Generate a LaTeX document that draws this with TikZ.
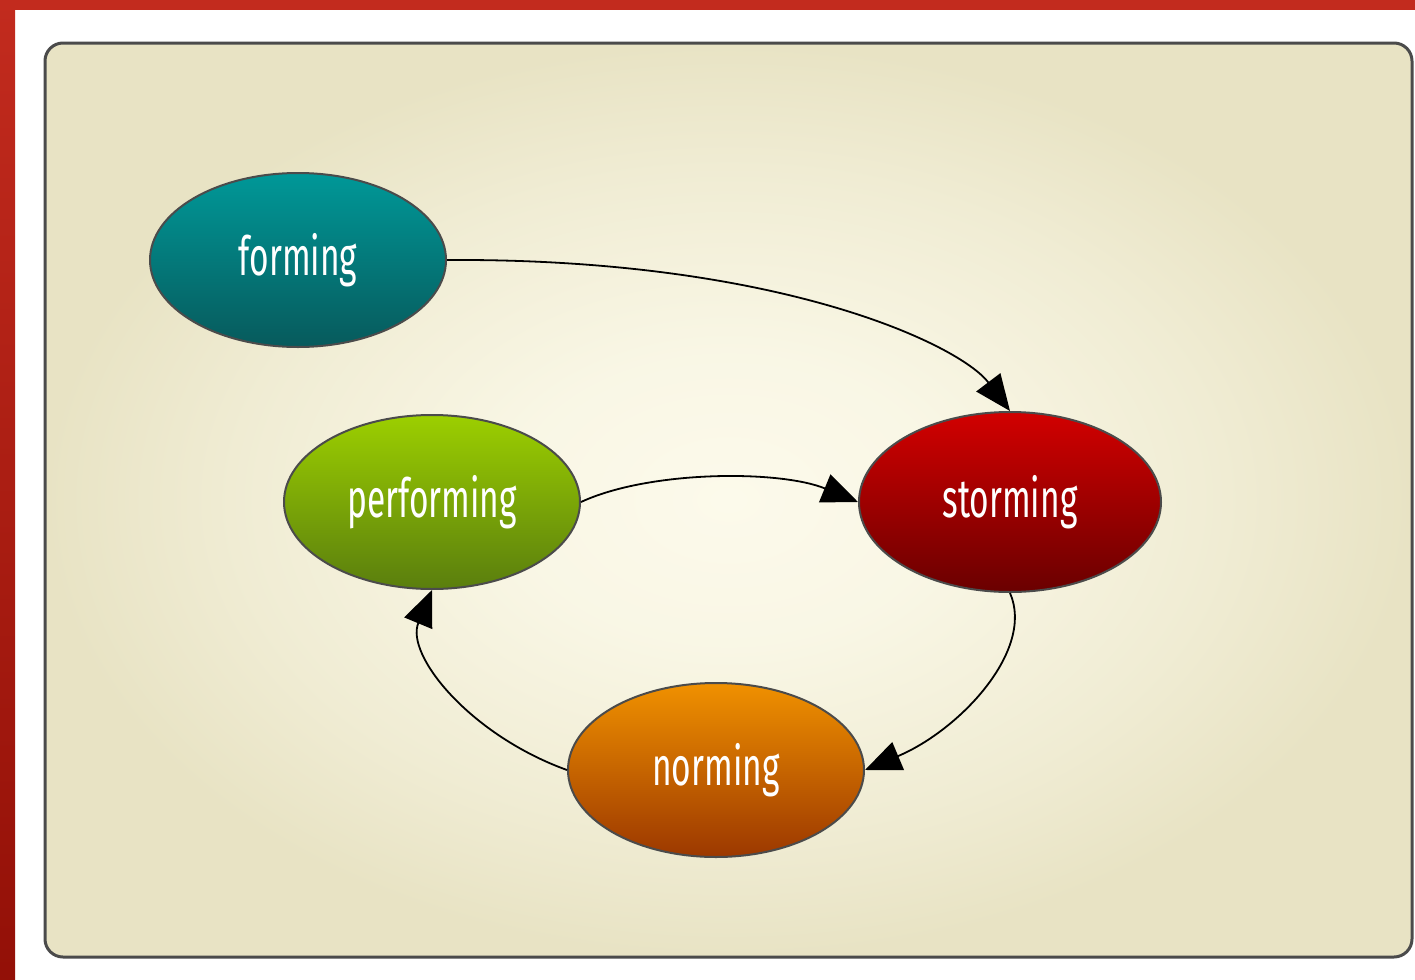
\documentclass[tikz,border=0pt]{standalone}
\usepackage{fontspec}
\setmainfont[FakeStretch=0.62]{Fira Sans}
\usetikzlibrary{positioning, shapes.geometric, arrows.meta}

\definecolor{barred}{HTML}{C22B1E}
\definecolor{bardark}{HTML}{931007}
\definecolor{panelin}{HTML}{FCFAEB}
\definecolor{panelout}{HTML}{E8E3C4}
\definecolor{frame}{HTML}{4B4B4B}
\definecolor{tealtop}{HTML}{009898}
\definecolor{tealbot}{HTML}{075A5C}
\definecolor{greentop}{HTML}{9CCF00}
\definecolor{greenbot}{HTML}{5A7E0E}
\definecolor{redtop}{HTML}{D20000}
\definecolor{redbot}{HTML}{6A0000}
\definecolor{orangetop}{HTML}{F09100}
\definecolor{orangebot}{HTML}{9C3800}

\pgfdeclareradialshading{panelglow}{\pgfpoint{0bp}{0bp}}{%
    color(0bp)=(panelin); color(8bp)=(panelin!85!panelout);
    color(18bp)=(panelin!40!panelout); color(25bp)=(panelout);
    color(50bp)=(panelout)}

\tikzset{
    stage/.style={ellipse, draw=frame, line width=1pt, inner sep=0pt,
        minimum width=148pt, minimum height=87pt, text=white,
        font=\fontsize{27}{30}\selectfont},
    flow/.style={-{Triangle[length=18pt, width=15pt]}, line width=0.9pt, black}
}

\begin{document}
\begin{tikzpicture}[x=0.5pt, y=-0.5pt]
    \useasboundingbox (0,0) rectangle (1415,980);
    % frame of the page
    \fill[white] (0,0) rectangle (1415,980);
    \fill[barred] (0,0) rectangle (1415,10);
    \shade[top color=barred, bottom color=bardark] (0,0) rectangle (15,980);

    % panel
    \shade[shading=panelglow, rounded corners=9pt] (45,43) rectangle (1412,957);
    \draw[frame, line width=1.5pt, rounded corners=9pt] (45,43) rectangle (1412,957);

    % stages
    \node (forming) [stage, top color=tealtop, bottom color=tealbot] at (298,260) {forming};
    \node (performing) [stage, top color=greentop, bottom color=greenbot] at (432,502) {performing};
    \node (storming) [stage, top color=redtop, bottom color=redbot, minimum width=151pt, minimum height=90pt] at (1010,502) {storming};
    \node (norming) [stage, top color=orangetop, bottom color=orangebot] at (716,770) {norming};

    % transitions
    \draw[flow] (forming.east) .. controls (780,258) and (960,345) .. (storming.north);
    \draw[flow] (performing.east) .. controls (650,470) and (780,470) .. (storming.west);
    \draw[flow] (storming.south) .. controls (1035,650) and (960,730) .. (norming.east);
    \draw[flow] (norming.west) .. controls (470,735) and (405,655) .. (performing.south);
\end{tikzpicture}
\end{document}
